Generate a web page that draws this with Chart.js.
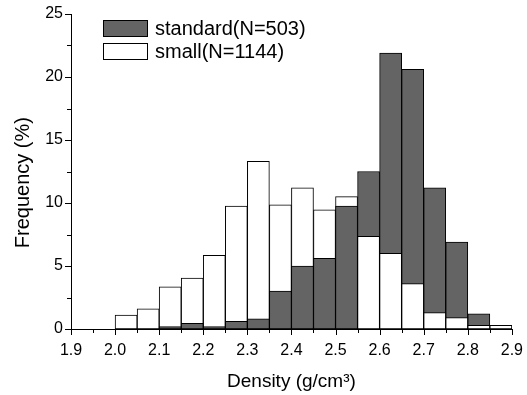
<!DOCTYPE html>
<html>
<head>
<meta charset="utf-8">
<script src="https://cdn.jsdelivr.net/npm/chart.js@4/dist/chart.umd.min.js"></script>
<style>
  body { margin: 0; background: #fff; }
  canvas { display: block; }
</style>
</head>
<body>
<canvas id="densityHist" width="527" height="395"></canvas>
<script>
// bin centres (bin width 0.05 g/cm3)
var binCentres = [1.925, 1.975, 2.025, 2.075, 2.125, 2.175, 2.225, 2.275, 2.325, 2.375,
                  2.425, 2.475, 2.525, 2.575, 2.625, 2.675, 2.725, 2.775, 2.825, 2.875];

// frequency (%)
var standardFreq = [0, 0, 0, 0, 0.2, 0.45, 0.2, 0.6, 0.8, 3.0,
                    5.0, 5.6, 9.75, 12.5, 21.9, 20.6, 11.2, 6.9, 1.2, 0];
var smallFreq = [0, 0, 1.1, 1.6, 3.35, 4.05, 5.85, 9.75, 13.3, 9.85,
                 11.2, 9.45, 10.5, 7.35, 6.0, 3.6, 1.3, 0.9, 0.3, 0.3];

var seriesNames = ['standard(N=503)', 'small(N=1144)'];
var xTickLabels = ['1.9', '2.0', '2.1', '2.2', '2.3', '2.4', '2.5', '2.6', '2.7', '2.8', '2.9'];

var darkFill = '#646464';
var fontFamily = '"Liberation Sans", Arial, sans-serif';

// in each bin the shorter bar sits in front of the taller one
function pick(values, keep) {
    return binCentres.map(function (x, i) {
        return { x: x, y: keep(i) ? values[i] : null };
    });
}
var stdFront = function (i) { return standardFreq[i] < smallFreq[i]; };
var smallFront = function (i) { return !stdFront(i); };

// tick marks (major + minor) drawn on the scales
var tickMarks = {
    id: 'tickMarks',
    afterDraw: function (chart) {
        var ctx = chart.ctx, xs = chart.scales.x, ys = chart.scales.y;
        var area = chart.chartArea;
        ctx.save();
        ctx.strokeStyle = '#000';
        ctx.lineWidth = 1;
        ctx.beginPath();
        for (var k = 0; k <= 20; k++) {
            var px = Math.round(xs.getPixelForValue(1.9 + k * 0.05)) + 0.5;
            ctx.moveTo(px, area.bottom);
            ctx.lineTo(px, area.bottom + (k % 2 === 0 ? 6 : 4));
        }
        for (var j = 0; j <= 10; j++) {
            var py = Math.round(ys.getPixelForValue(j * 2.5)) + 0.5;
            ctx.moveTo(area.left, py);
            ctx.lineTo(area.left - (j % 2 === 0 ? 6 : 4), py);
        }
        ctx.stroke();
        ctx.restore();
    }
};

// legend box inside the plot, top left
var boxLegend = {
    id: 'boxLegend',
    afterDraw: function (chart) {
        var ctx = chart.ctx;
        var fills = [darkFill, '#ffffff'];
        ctx.save();
        ctx.font = '20px ' + fontFamily;
        ctx.textBaseline = 'middle';
        for (var i = 0; i < 2; i++) {
            var top = 20 + i * 23;
            ctx.fillStyle = fills[i];
            ctx.fillRect(103, top, 45, 17);
            ctx.strokeStyle = '#000';
            ctx.lineWidth = 1;
            ctx.strokeRect(103.5, top + 0.5, 44, 16);
            ctx.fillStyle = '#000';
            ctx.fillText(seriesNames[i], 155, top + 9);
        }
        ctx.restore();
    }
};

var ctx = document.getElementById('densityHist');

var myChart = new Chart(ctx, {
    type: 'bar',
    data: {
        datasets: [
            { label: seriesNames[0], data: pick(standardFreq, stdFront), backgroundColor: darkFill },
            { label: seriesNames[1], data: pick(smallFreq, smallFront), backgroundColor: '#ffffff' },
            { label: seriesNames[0], data: pick(standardFreq, smallFront), backgroundColor: darkFill },
            { label: seriesNames[1], data: pick(smallFreq, stdFront), backgroundColor: '#ffffff' }
        ]
    },
    options: {
        responsive: false,
        animation: false,
        layout: { padding: { left: 0, top: 14, right: 15, bottom: 0 } },
        datasets: {
            bar: {
                grouped: false,
                barPercentage: 1,
                categoryPercentage: 1,
                borderColor: '#000',
                borderWidth: 1,
                borderSkipped: false
            }
        },
        plugins: {
            legend: { display: false },
            tooltip: { enabled: false }
        },
        scales: {
            x: {
                type: 'linear',
                min: 1.9,
                max: 2.9,
                offset: false,
                grid: { display: false },
                border: { display: true, color: '#000', width: 1 },
                afterBuildTicks: function (scale) {
                    scale.ticks = xTickLabels.map(function (t) { return { value: parseFloat(t) }; });
                },
                ticks: {
                    autoSkip: false,
                    maxRotation: 0,
                    padding: 4,
                    color: '#000',
                    font: { family: fontFamily, size: 16 },
                    callback: function (v) { return v.toFixed(1); }
                },
                title: {
                    display: true,
                    text: 'Density (g/cm³)',
                    color: '#000',
                    font: { family: fontFamily, size: 19, lineHeight: 1 },
                    padding: { top: 0, bottom: 4 }
                },
                afterFit: function (scale) { scale.height = 66; }
            },
            y: {
                min: 0,
                max: 25,
                grid: { display: false },
                border: { display: true, color: '#000', width: 1 },
                ticks: {
                    stepSize: 5,
                    padding: 0,
                    color: '#000',
                    font: { family: fontFamily, size: 16 }
                },
                title: {
                    display: true,
                    text: 'Frequency (%)    ',
                    color: '#000',
                    font: { family: fontFamily, size: 20 },
                    padding: { top: 11, bottom: 0 }
                },
                afterFit: function (scale) { scale.width = 71; }
            }
        }
    },
    plugins: [tickMarks, boxLegend]
});
</script>
</body>
</html>
